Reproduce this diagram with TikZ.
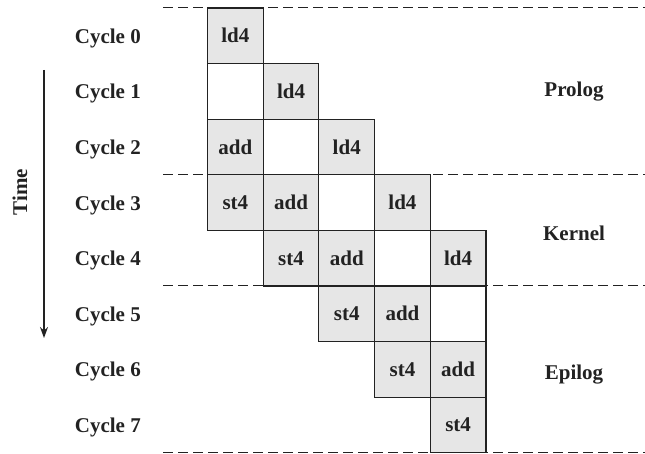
\documentclass[tikz,border=0pt]{standalone}
\usepackage{fontspec}
\setmainfont{Liberation Serif}
\usetikzlibrary{arrows.meta}
\definecolor{cellgray}{HTML}{E6E6E6}
\definecolor{ink}{HTML}{222222}
\tikzset{
  cell/.style={draw=ink, line width=1.1pt, minimum width=55.7pt, minimum height=55.6pt, inner sep=0pt, font=\fontsize{21}{24}\selectfont\bfseries, text=ink},
  busy/.style={cell, fill=cellgray},
  idle/.style={cell, fill=white},
  lbl/.style={font=\fontsize{21}{24}\selectfont\bfseries, text=ink, inner sep=0pt},
  sep/.style={draw=ink, line width=1pt, dash pattern=on 10pt off 5pt},
}
\begin{document}
\begin{tikzpicture}[x=1pt, y=-1pt]
\useasboundingbox (0,0) rectangle (645,454);
% dashed separators (drawn first, under the cells)
\coordinate (s0a) at (163,8);     \coordinate (s0b) at (645,8);
\coordinate (s1a) at (163,174.8); \coordinate (s1b) at (645,174.8);
\coordinate (s2a) at (163,286);   \coordinate (s2b) at (645,286);
\coordinate (s3a) at (163,452.6); \coordinate (s3b) at (645,452.6);
\draw[sep] (s0a) -- (s0b);
\draw[sep] (s1a) -- (s1b);
\draw[sep] (s2a) -- (s2b);
\draw[sep] (s3a) -- (s3b);

\def\ca{235.35}\def\cb{291.05}\def\cc{346.75}\def\cd{402.45}\def\ce{458.15}
% row 0
\node[busy] (r0a) at (\ca,35.8) {ld4};
% row 1
\node[idle] (r1a) at (\ca,91.4) {};
\node[busy] (r1b) at (\cb,91.4) {ld4};
% row 2
\node[busy] (r2a) at (\ca,147.0) {add};
\node[idle] (r2b) at (\cb,147.0) {};
\node[busy] (r2c) at (\cc,147.0) {ld4};
% row 3
\node[busy] (r3a) at (\ca,202.6) {st4};
\node[busy] (r3b) at (\cb,202.6) {add};
\node[idle] (r3c) at (\cc,202.6) {};
\node[busy] (r3d) at (\cd,202.6) {ld4};
% row 4
\node[busy] (r4b) at (\cb,258.2) {st4};
\node[busy] (r4c) at (\cc,258.2) {add};
\node[idle] (r4d) at (\cd,258.2) {};
\node[busy] (r4e) at (\ce,258.2) {ld4};
% row 5
\node[busy] (r5c) at (\cc,313.8) {st4};
\node[busy] (r5d) at (\cd,313.8) {add};
\node[idle] (r5e) at (\ce,313.8) {};
% row 6
\node[busy] (r6d) at (\cd,369.4) {st4};
\node[busy] (r6e) at (\ce,369.4) {add};
% row 7
\node[busy] (r7e) at (\ce,425.0) {st4};

% cycle labels
\foreach \i in {0,...,7}{
  \node[lbl, anchor=east] (cyc\i) at (141, 38.3+55.6*\i) {Cycle \i};
}

% phase labels
\node[lbl] (prolog) at (574,92) {Prolog};
\node[lbl] (kernel) at (574,233) {Kernel};
\node[lbl] (epilog) at (574,375) {Epilog};

% time arrow
\node[lbl, rotate=90] (time) at (20,192) {Time};
\coordinate (ta) at (44,70);
\coordinate (tb) at (44,338);
\draw[draw=ink, line width=1.3pt, -{Stealth[length=11pt,width=8pt]}] (ta) -- (tb);
\end{tikzpicture}
\end{document}
